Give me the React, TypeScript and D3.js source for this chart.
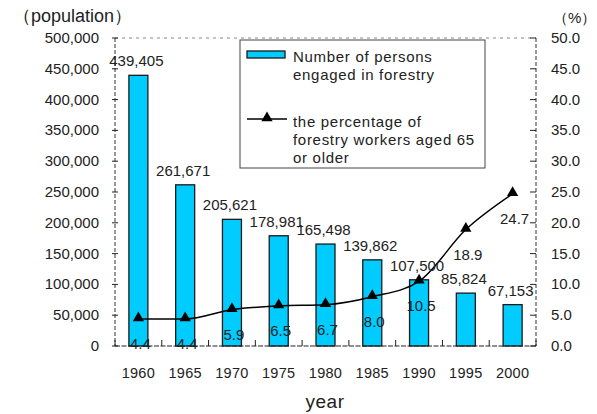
import React from "react";
import * as d3 from "d3";

const years = ["1960", "1965", "1970", "1975", "1980", "1985", "1990", "1995", "2000"];
const workers = [439405, 261671, 205621, 178981, 165498, 139862, 107500, 85824, 67153];
const elderlyPct = [4.4, 4.4, 5.9, 6.5, 6.7, 8.0, 10.5, 18.9, 24.7];
const leftTicks = [0, 50000, 100000, 150000, 200000, 250000, 300000, 350000, 400000, 450000, 500000];
const rightTicks = [0, 5, 10, 15, 20, 25, 30, 35, 40, 45, 50];

const W = 597, H = 414;
const L = 115, R = 536, T = 38, B = 346;
const FONT = "'Liberation Sans', Arial, sans-serif";

export default function App() {
  const x = d3.scaleBand<string>().domain(years).range([L, R]).paddingInner(0).paddingOuter(0);
  const yL = d3.scaleLinear().domain([0, 500000]).range([B, T]);
  const yR = d3.scaleLinear().domain([0, 50]).range([B, T]);
  const fmt = d3.format(",");
  const barW = 19;
  const cx = (d: string) => (x(d) as number) + x.bandwidth() / 2;
  const line = d3
    .line<number>()
    .x((_, i) => cx(years[i]))
    .y((v) => yR(v))
    .curve(d3.curveMonotoneX);
  const tri = d3.symbol().type(d3.symbolTriangle).size(55)() as string;
  const boundaries = d3.range(years.length + 1).map((i) => L + i * x.bandwidth());

  return (
    <svg width={W} height={H} style={{ position: "absolute", left: 0, top: 0, background: "#fff" }} fontFamily={FONT}>
      {/* top border */}
      <line x1={L} x2={R} y1={T} y2={T} stroke="#888" strokeDasharray="3,4" />
      {/* bars */}
      {years.map((y, i) => (
        <rect key={y} x={cx(y) - barW / 2} y={yL(workers[i])} width={barW} height={B - yL(workers[i])}
          fill="#00CCFF" stroke="#1a1a1a" strokeWidth={1.3} />
      ))}
      {/* axes */}
      <line x1={L} x2={L} y1={T} y2={B} stroke="#333" strokeDasharray="4,2" />
      <line x1={R} x2={R} y1={T} y2={B} stroke="#333" strokeDasharray="4,2" />
      <line x1={L} x2={R} y1={B} y2={B} stroke="#222" strokeWidth={1.2} strokeDasharray="5,1.5" />
      {leftTicks.map((t) => (
        <g key={t}>
          <line x1={L - 3} x2={L + 3} y1={yL(t)} y2={yL(t)} stroke="#222" />
          <text x={99} y={yL(t) + 5} textAnchor="end" fontSize={15} fill="#222">{fmt(t)}</text>
        </g>
      ))}
      {rightTicks.map((t) => (
        <g key={t}>
          <line x1={R - 6} x2={R} y1={yR(t)} y2={yR(t)} stroke="#222" />
          <text x={551} y={yR(t) + 5} textAnchor="start" fontSize={15} fill="#222">{t.toFixed(1)}</text>
        </g>
      ))}
      {boundaries.map((b, i) => (
        <line key={i} x1={b} x2={b} y1={B} y2={B - 6} stroke="#222" />
      ))}
      {years.map((y) => (
        <text key={y} x={cx(y)} y={378} textAnchor="middle" fontSize={14.5} letterSpacing={0.3} fill="#222">{y}</text>
      ))}
      {/* line */}
      <path d={line(elderlyPct) as string} fill="none" stroke="#000" strokeWidth={1.5} />
      {elderlyPct.map((v, i) => (
        <path key={i} d={tri} transform={`translate(${cx(years[i])},${yR(v) - 1})`} fill="#000" />
      ))}
      {/* bar labels */}
      {years.map((y, i) => (
        <text key={y} x={cx(y) - 2} y={yL(workers[i]) - 9} textAnchor="middle" fontSize={15} fill="#222">{fmt(workers[i])}</text>
      ))}
      {/* pct labels */}
      {elderlyPct.map((v, i) => (
        <text key={i} x={cx(years[i]) + 2} y={yR(v) + 30} textAnchor="middle" fontSize={15} fill="#222">{v.toFixed(1)}</text>
      ))}
      {/* legend */}
      <rect x={240} y={40} width={245} height={128} fill="#fff" stroke="#444" strokeWidth={1} />
      <rect x={247} y={51} width={38} height={7} fill="#00CCFF" stroke="#1a1a1a" strokeWidth={1.3} />
      <text x={293} y={62} fontSize={15} letterSpacing={0.7} fill="#222">Number of persons</text>
      <text x={293} y={80} fontSize={15} letterSpacing={0.7} fill="#222">engaged in forestry</text>
      <line x1={247} x2={287} y1={119} y2={119} stroke="#000" strokeWidth={1.5} />
      <path d={tri} transform="translate(267,118)" fill="#000" />
      <text x={293} y={127} fontSize={15} letterSpacing={0.7} fill="#222">the percentage of</text>
      <text x={293} y={145} fontSize={15} letterSpacing={0.7} fill="#222">forestry workers aged 65</text>
      <text x={293} y={163} fontSize={15} letterSpacing={0.7} fill="#222">or older</text>
      {/* titles */}
      <text x={13} y={22} fontSize={18} fill="#222">（population）</text>
      <text x={553} y={23} fontSize={15} fill="#222">（%）</text>
      <text x={325} y={408} textAnchor="middle" fontSize={19} letterSpacing={0.5} fill="#222">year</text>
    </svg>
  );
}
